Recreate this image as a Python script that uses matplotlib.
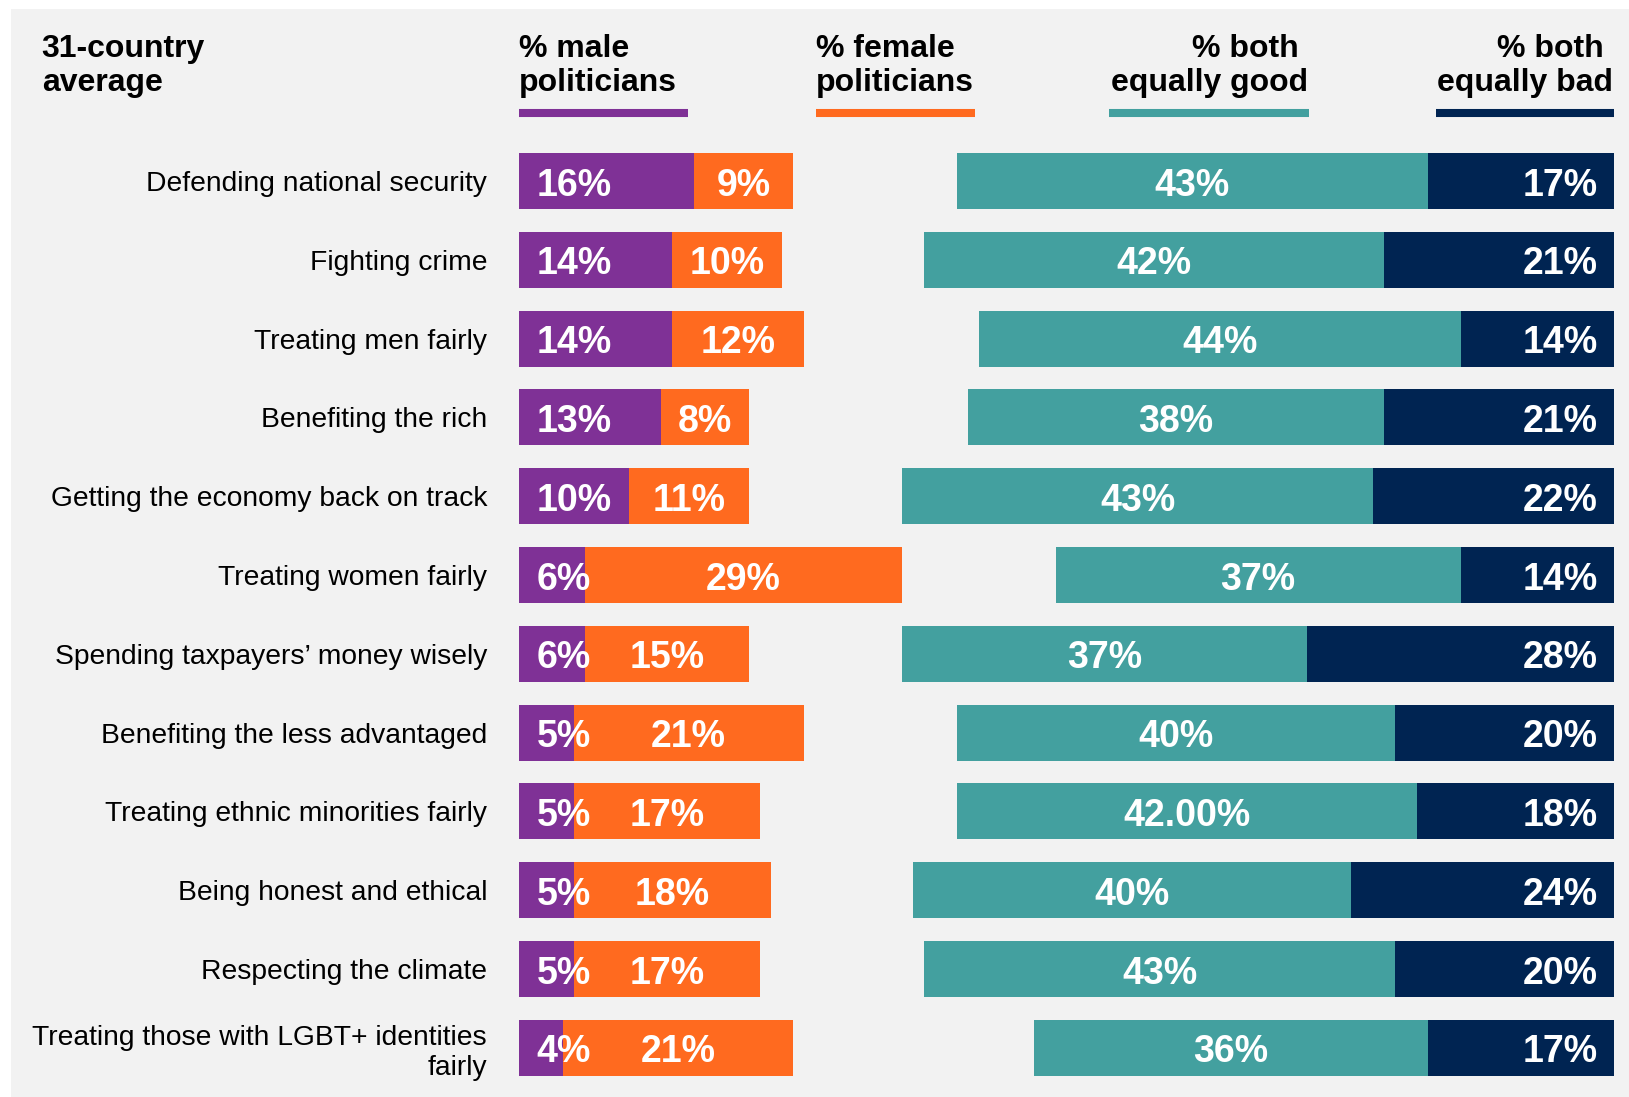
from matplotlib import pyplot as plt
from matplotlib.patches import Rectangle
from matplotlib.lines import Line2D

plt.rcParams['font.family'] = ['Liberation Sans', 'DejaVu Sans']

categories = ['Defending national security', 'Fighting crime', 'Treating men fairly',
              'Benefiting the rich', 'Getting the economy back on track',
              'Treating women fairly', 'Spending taxpayers\u2019 money wisely',
              'Benefiting the less advantaged', 'Treating ethnic minorities fairly',
              'Being honest and ethical', 'Respecting the climate',
              'Treating those with LGBT+ identities\nfairly']
male = [16, 14, 14, 13, 10, 6, 6, 5, 5, 5, 5, 4]
female = [9, 10, 12, 8, 11, 29, 15, 21, 17, 18, 17, 21]
good = [43, 42, 44, 38, 43, 37, 37, 40, 42, 40, 43, 36]
bad = [17, 21, 14, 21, 22, 14, 28, 20, 18, 24, 20, 17]
good_labels = ['43%', '42%', '44%', '38%', '43%', '37%', '37%', '40%', '42.00%', '40%', '43%', '36%']

PURPLE = '#7f3196'
ORANGE = '#ff6a1f'
TEAL = '#43a09f'
NAVY = '#002452'
BG = '#f2f2f2'

W, H = 1629, 1097
fig = plt.figure(figsize=(W / 100, H / 100), dpi=100, facecolor='white')

def fx(x):
    return x / W

def fy(y):
    return 1 - y / H

# grey panel behind everything
fig.patches.append(Rectangle((fx(11), 0), 1, fy(9), transform=fig.transFigure,
                             facecolor=BG, edgecolor='none', zorder=-10))

# bar axes: x is percent, rows centred 181 .. 1049 px
top_px, step = 181 - 39.4, 78.8
ax = fig.add_axes([fx(519), fy(top_px + 12 * step), fx(1614) - fx(519), 12 * step / H])
ax.set_facecolor('none')
ax.set_xlim(0, 100)
ax.set_ylim(11.5, -0.5)

rows = list(range(len(categories)))
h = 0.71
ax.barh(rows, male, height=h, color=PURPLE, linewidth=0)
ax.barh(rows, female, left=male, height=h, color=ORANGE, linewidth=0)
right_left = [100 - g - b for g, b in zip(good, bad)]
ax.barh(rows, good, left=right_left, height=h, color=TEAL, linewidth=0)
ax.barh(rows, bad, left=[100 - b for b in bad], height=h, color=NAVY, linewidth=0)

# value labels: baseline a little below the bar centre so digits sit centred
lab = dict(color='white', fontsize=27, fontweight='bold', va='baseline')
dy = 0.185
for i in rows:
    ax.text(1.6, i + dy, f'{male[i]}%', ha='left', **lab)
    ax.text(male[i] + female[i] / 2, i + dy, f'{female[i]}%', ha='center', **lab)
    ax.text(right_left[i] + good[i] / 2, i + dy, good_labels[i], ha='center', **lab)
    ax.text(100 - 1.45, i + dy, f'{bad[i]}%', ha='right', **lab)

ax.set_yticks(rows)
ax.set_yticklabels(categories, fontsize=20.3, linespacing=1.22)
ax.tick_params(axis='y', length=0, pad=23)
ax.set_xticks([])
for s in ax.spines.values():
    s.set_visible(False)

# column headers (baseline of the second line at y=91 px)
hdr = dict(fontsize=23, fontweight='bold', va='baseline', linespacing=1.17)
fig.text(fx(41.7), fy(91), '31-country\naverage', ha='left', **hdr)
fig.text(fx(519), fy(91), '% male\npoliticians', ha='left', **hdr)
fig.text(fx(815.6), fy(91), '% female\npoliticians', ha='left', **hdr)
fig.text(fx(1308), fy(91), '% both \nequally good', ha='right', **hdr)
fig.text(fx(1613), fy(91), '% both \nequally bad', ha='right', **hdr)

for x0, x1, c in [(519, 688, PURPLE), (815.6, 975, ORANGE), (1109, 1309, TEAL), (1436, 1614, NAVY)]:
    fig.lines.append(Line2D([fx(x0), fx(x1)], [fy(113), fy(113)], transform=fig.transFigure,
                            color=c, linewidth=5.8, solid_capstyle='butt'))

fig.savefig('out.png', dpi=100, facecolor='white')
